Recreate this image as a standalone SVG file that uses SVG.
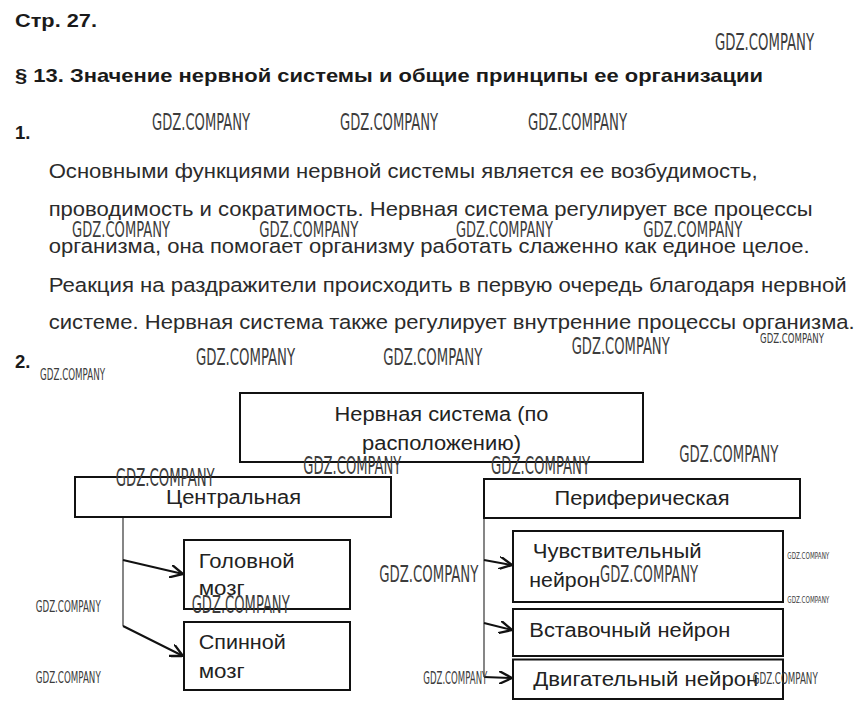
<svg xmlns="http://www.w3.org/2000/svg" width="865" height="717" viewBox="0 0 865 717">
<defs>
<style>
.h{font-family:"Liberation Sans",Arial,sans-serif;font-weight:bold;fill:#1a1a1a}
.p{font-family:"Liberation Sans",Arial,sans-serif;font-size:20.5px;fill:#2b2b2b}
.t{font-family:"Liberation Sans",Arial,sans-serif;font-size:20px;fill:#222}
.box{fill:#fff;stroke:#111;stroke-width:2}
.wm{font-family:"DejaVu Sans Condensed","Liberation Sans Narrow","DejaVu Sans",sans-serif;fill:#3c3c3c}
.ln{fill:none;stroke:#444;stroke-width:1.3}
.ar{fill:none;stroke:#111;stroke-width:2;marker-end:url(#arr)}
</style>
<marker id="arr" viewBox="0 0 10 10" refX="10" refY="5" markerWidth="13" markerHeight="13" markerUnits="userSpaceOnUse" orient="auto">
<path d="M0,0 L10,5 L0,10" fill="none" stroke="#111" stroke-width="1.8"/>
</marker>
</defs>
<rect width="865" height="717" fill="#fff"/>

<g id="header">
<text class="h" x="15" y="27" font-size="18" textLength="82" lengthAdjust="spacingAndGlyphs">Стр. 27.</text>
<text class="h" x="15" y="82" font-size="18.5" textLength="748" lengthAdjust="spacingAndGlyphs">§ 13. Значение нервной системы и общие принципы ее организации</text>
<text class="h" x="15" y="138.5" font-size="18.5">1.</text>
<text class="h" x="15" y="367.5" font-size="18.5">2.</text>
</g>

<g id="paragraph">
<text class="p" x="48.7" y="178.3" textLength="709" lengthAdjust="spacingAndGlyphs">Основными функциями нервной системы является ее возбудимость,</text>
<text class="p" x="48.7" y="216" textLength="764" lengthAdjust="spacingAndGlyphs">проводимость и сократимость. Нервная система регулирует все процессы</text>
<text class="p" x="48.7" y="253.3" textLength="761" lengthAdjust="spacingAndGlyphs">организма, она помогает организму работать слаженно как единое целое.</text>
<text class="p" x="48.7" y="291.7" textLength="798" lengthAdjust="spacingAndGlyphs">Реакция на раздражители происходить в первую очередь благодаря нервной</text>
<text class="p" x="48.7" y="329.3" textLength="806" lengthAdjust="spacingAndGlyphs">системе. Нервная система также регулирует внутренние процессы организма.</text>
</g>

<g id="connectors">
<path class="ln" d="M123,517 V626"/>
<path class="ar" d="M123,560 L183,574"/>
<path class="ar" d="M123,626 L183,656"/>
<path class="ln" d="M484,518 V677"/>
<path class="ar" d="M484,560 L512,565"/>
<path class="ar" d="M484,623 L512,630"/>
<path class="ar" d="M484,677 L512,678"/>
</g>

<g id="node-root">
<rect class="box" x="240" y="393" width="403" height="69"/>
<text class="t" x="441.5" y="421" text-anchor="middle" textLength="214" lengthAdjust="spacingAndGlyphs">Нервная система (по</text>
<text class="t" x="441.5" y="450" text-anchor="middle" textLength="159" lengthAdjust="spacingAndGlyphs">расположению)</text>
</g>
<g id="node-central">
<rect class="box" x="75" y="477" width="316" height="40"/>
<text class="t" x="233.5" y="503.5" text-anchor="middle" textLength="135" lengthAdjust="spacingAndGlyphs">Центральная</text>
</g>
<g id="node-peripheral">
<rect class="box" x="484" y="479" width="316" height="39"/>
<text class="t" x="642" y="505" text-anchor="middle" textLength="175" lengthAdjust="spacingAndGlyphs">Периферическая</text>
</g>
<g id="node-brain">
<rect class="box" x="184" y="540" width="166" height="69"/>
<text class="t" x="198.7" y="567.7" textLength="96" lengthAdjust="spacingAndGlyphs">Головной</text>
<text class="t" x="198.7" y="595" textLength="46" lengthAdjust="spacingAndGlyphs">мозг</text>
</g>
<g id="node-spinal">
<rect class="box" x="184" y="622" width="166" height="68"/>
<text class="t" x="198.7" y="649.3" textLength="87" lengthAdjust="spacingAndGlyphs">Спинной</text>
<text class="t" x="198.7" y="677.7" textLength="46" lengthAdjust="spacingAndGlyphs">мозг</text>
</g>
<g id="node-sensory">
<rect class="box" x="513" y="531" width="270" height="71"/>
<text class="t" x="532.7" y="558.3" textLength="169" lengthAdjust="spacingAndGlyphs">Чувствительный</text>
<text class="t" x="529.3" y="586.7" textLength="71" lengthAdjust="spacingAndGlyphs">нейрон</text>
</g>
<g id="node-inter">
<rect class="box" x="513" y="609" width="270" height="47"/>
<text class="t" x="529.3" y="636.7" textLength="201" lengthAdjust="spacingAndGlyphs">Вставочный нейрон</text>
</g>
<g id="node-motor">
<rect class="box" x="513" y="659.5" width="270" height="39.5"/>
<text class="t" x="533.3" y="685.7" textLength="225" lengthAdjust="spacingAndGlyphs">Двигательный нейрон</text>
</g>

<g id="watermarks">
<text class="wm" x="715" y="50" font-size="23" textLength="99" lengthAdjust="spacingAndGlyphs">GDZ.COMPANY</text>
<text class="wm" x="152" y="130" font-size="23" textLength="98" lengthAdjust="spacingAndGlyphs">GDZ.COMPANY</text>
<text class="wm" x="340" y="130" font-size="23" textLength="98" lengthAdjust="spacingAndGlyphs">GDZ.COMPANY</text>
<text class="wm" x="528" y="130" font-size="23" textLength="99" lengthAdjust="spacingAndGlyphs">GDZ.COMPANY</text>
<text class="wm" x="72" y="237.3" font-size="21.5" textLength="98" lengthAdjust="spacingAndGlyphs">GDZ.COMPANY</text>
<text class="wm" x="259.3" y="237.3" font-size="21.5" textLength="99" lengthAdjust="spacingAndGlyphs">GDZ.COMPANY</text>
<text class="wm" x="456" y="237.3" font-size="21.5" textLength="97" lengthAdjust="spacingAndGlyphs">GDZ.COMPANY</text>
<text class="wm" x="643.3" y="237.3" font-size="21.5" textLength="99" lengthAdjust="spacingAndGlyphs">GDZ.COMPANY</text>
<text class="wm" x="196" y="365" font-size="23" textLength="99" lengthAdjust="spacingAndGlyphs">GDZ.COMPANY</text>
<text class="wm" x="383.3" y="365" font-size="23" textLength="99" lengthAdjust="spacingAndGlyphs">GDZ.COMPANY</text>
<text class="wm" x="571.7" y="354" font-size="23" textLength="98" lengthAdjust="spacingAndGlyphs">GDZ.COMPANY</text>
<text class="wm" x="760" y="343" font-size="14" textLength="64" lengthAdjust="spacingAndGlyphs">GDZ.COMPANY</text>
<text class="wm" x="40" y="380" font-size="16" textLength="65" lengthAdjust="spacingAndGlyphs">GDZ.COMPANY</text>
<text class="wm" x="115.7" y="486" font-size="24" textLength="99" lengthAdjust="spacingAndGlyphs">GDZ.COMPANY</text>
<text class="wm" x="303.3" y="474.3" font-size="24" textLength="98" lengthAdjust="spacingAndGlyphs">GDZ.COMPANY</text>
<text class="wm" x="491" y="474.3" font-size="24" textLength="99" lengthAdjust="spacingAndGlyphs">GDZ.COMPANY</text>
<text class="wm" x="679.3" y="461.7" font-size="23" textLength="99" lengthAdjust="spacingAndGlyphs">GDZ.COMPANY</text>
<text class="wm" x="379.3" y="581.7" font-size="23" textLength="99" lengthAdjust="spacingAndGlyphs">GDZ.COMPANY</text>
<text class="wm" x="600" y="581.7" font-size="23" textLength="98" lengthAdjust="spacingAndGlyphs">GDZ.COMPANY</text>
<text class="wm" x="191.7" y="613.3" font-size="24" textLength="98" lengthAdjust="spacingAndGlyphs">GDZ.COMPANY</text>
<text class="wm" x="35.7" y="612.3" font-size="16" textLength="65" lengthAdjust="spacingAndGlyphs">GDZ.COMPANY</text>
<text class="wm" x="35.7" y="683.3" font-size="16" textLength="65" lengthAdjust="spacingAndGlyphs">GDZ.COMPANY</text>
<text class="wm" x="787.3" y="558.5" font-size="8.5" textLength="42" lengthAdjust="spacingAndGlyphs">GDZ.COMPANY</text>
<text class="wm" x="787.3" y="602.7" font-size="8.5" textLength="42" lengthAdjust="spacingAndGlyphs">GDZ.COMPANY</text>
<text class="wm" x="423.3" y="684.3" font-size="18" textLength="64" lengthAdjust="spacingAndGlyphs">GDZ.COMPANY</text>
<text class="wm" x="752.7" y="684" font-size="16" textLength="65" lengthAdjust="spacingAndGlyphs">GDZ.COMPANY</text>
</g>
</svg>
